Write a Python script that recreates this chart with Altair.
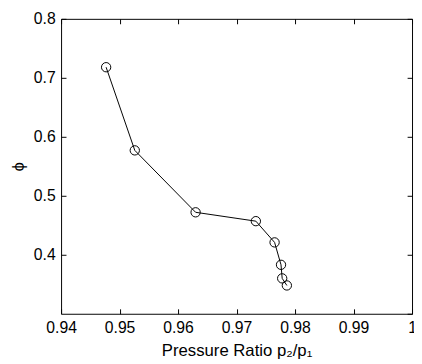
import altair as alt
import pandas as pd

pressure_ratio = [0.9477, 0.9526, 0.9630, 0.9733, 0.9765, 0.9776, 0.9778, 0.9786]
phi = [0.718, 0.577, 0.472, 0.457, 0.421, 0.383, 0.360, 0.348]
x_ticks = [0.94, 0.95, 0.96, 0.97, 0.98, 0.99, 1.0]
y_ticks = [0.3, 0.4, 0.5, 0.6, 0.7, 0.8]
y_labels = [0.4, 0.5, 0.6, 0.7, 0.8]

df = pd.DataFrame({"x": pressure_ratio, "y": phi})

FONT = "Liberation Sans"
xs = alt.Scale(domain=[0.94, 1.0], nice=False, zero=False)
ys = alt.Scale(domain=[0.3, 0.8], nice=False, zero=False)

common = dict(domain=False, grid=False, tickSize=5, offset=-5, tickColor="black",
              tickWidth=1, labelFont=FONT, labelFontSize=16, labelColor="black",
              labelFlush=False, labelOverlap=False,
              titleFont=FONT, titleFontSize=17, titleColor="black", titleFontWeight="normal")

x_bottom = alt.Axis(orient="bottom", values=x_ticks, format=".2~f", labelPadding=6,
                    title="Pressure Ratio p₂/p₁", titlePadding=7, **common)
y_left = alt.Axis(orient="left", values=y_labels, format=".1f", labelPadding=6,
                  title="ϕ", titleAngle=270, titleX=-48, titleY=150,
                  titleAlign="center", titleBaseline="middle", **common)

x_top = alt.Axis(orient="top", values=x_ticks, labels=False, title=None, domain=False,
                 grid=False, tickSize=5, offset=-5, tickColor="black")
y_right = alt.Axis(orient="right", values=y_ticks, labels=False, title=None, domain=False,
                   grid=False, tickSize=5, offset=-5, tickColor="black")

line = alt.Chart(df).mark_line(color="black", strokeWidth=1).encode(
    x=alt.X("x:Q", scale=xs, axis=x_bottom),
    y=alt.Y("y:Q", scale=ys, axis=y_left),
)
points = alt.Chart(df).mark_point(shape="circle", size=90, color="black",
                                  filled=False, strokeWidth=1, opacity=1).encode(
    x=alt.X("x:Q", scale=xs, axis=x_top),
    y=alt.Y("y:Q", scale=ys, axis=y_right),
)

chart = alt.layer(line, points).resolve_axis(x="independent", y="independent").properties(
    width=357, height=300,
    autosize=alt.AutoSizeParams(type="none"),
    padding={"left": 54, "top": 8, "right": 2, "bottom": 44},
    background="white",
).configure_view(stroke="black", strokeWidth=1)

chart.save("out.html", embed_options={"renderer": "svg", "actions": False})
